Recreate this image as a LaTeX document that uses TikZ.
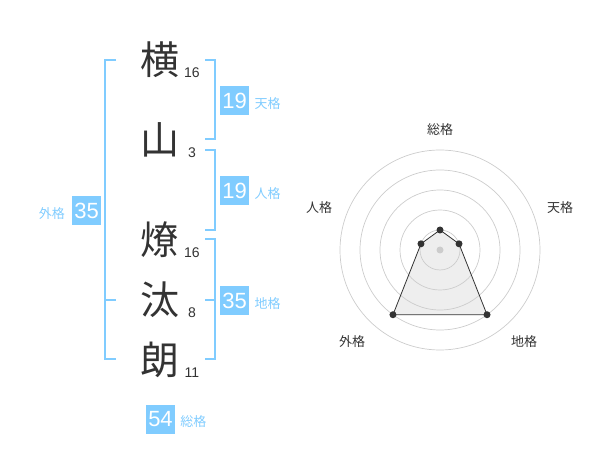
\documentclass[tikz,border=0pt]{standalone}
\usepackage{fontspec}
\setmainfont{Liberation Sans}
\newfontfamily\jpfont{Noto Sans CJK JP}
\usepackage{xcolor}
\usetikzlibrary{positioning}

\definecolor{kakublue}{HTML}{80CCFF}
\definecolor{inkgray}{HTML}{333333}
\definecolor{ringgray}{HTML}{CCCCCC}
\definecolor{areagray}{HTML}{EEEEEE}

\tikzset{
  namechar/.style={text=inkgray, font=\jpfont\fontsize{39}{39}\selectfont, inner sep=0pt},
  strokenum/.style={text=inkgray, font=\fontsize{14}{14}\selectfont, inner sep=0pt},
  kakubox/.style={fill=kakublue, text=white, minimum width=29pt, minimum height=29pt, inner sep=0pt, font=\fontsize{22}{22}\selectfont},
  kakulabel/.style={text=kakublue, font=\jpfont\fontsize{13}{13}\selectfont, inner sep=0pt},
  bracket/.style={draw=kakublue, line width=2pt},
  ring/.style={draw=ringgray, line width=0.7pt},
  axislabel/.style={text=inkgray, font=\jpfont\fontsize{13}{13}\selectfont, inner sep=0pt},
  dot/.style={circle, fill=inkgray, inner sep=0pt, minimum size=7pt},
}

\begin{document}
\begin{tikzpicture}[x=1pt, y=-1pt]
    \useasboundingbox (0,0) rectangle (600,470);

    % Name characters and stroke counts
    \foreach \i/\c/\y/\n in {1/横/60/16, 2/山/140/3, 3/燎/240/16, 4/汰/300/8, 5/朗/360/11} {
        \node[namechar] (c\i) at (160,\y) {\c};
        \node[strokenum] (n\i) at (192,\y+13) {\n};
    }

    % Brackets
    \draw[bracket] (116,60) -- (105,60) -- (105,359) -- (116,359);
    \draw[bracket] (105,300) -- (116,300);
    \draw[bracket] (205,60) -- (215,60) -- (215,139) -- (205,139);
    \draw[bracket] (205,150) -- (215,150) -- (215,230) -- (205,230);
    \draw[bracket] (205,239) -- (215,239) -- (215,359) -- (205,359);
    \draw[bracket] (205,300) -- (215,300);

    % Boxes with values
    \node[kakubox] (bten) at (234.7,100.5) {19};
    \node[kakubox] (bjin) at (234.7,190.5) {19};
    \node[kakubox] (bchi) at (234.7,300.5) {35};
    \node[kakubox] (bgai) at (86.7,210.5) {35};
    \node[kakubox] (bsou) at (160.5,419) {54};
    \node[kakulabel, right=5pt of bten, yshift=-3pt] (lten) {天格};
    \node[kakulabel, right=5pt of bjin, yshift=-3pt] (ljin) {人格};
    \node[kakulabel, right=5pt of bchi, yshift=-3pt] (lchi) {地格};
    \node[kakulabel, left=7pt of bgai, yshift=-3pt] (lgai) {外格};
    \node[kakulabel, right=5pt of bsou, yshift=-3pt] (lsou) {総格};

    % Radar chart
    \coordinate (ctr) at (440,250);
    \foreach \name/\ang/\r in {sou/-90/20, ten/-18/20, chi/54/80, gai/126/80, jin/198/20} {
        \coordinate (p-\name) at ([shift={(\ang:\r)}]ctr);
    }
    \fill[areagray] (p-sou) -- (p-ten) -- (p-chi) -- (p-gai) -- (p-jin) -- cycle;
    \foreach \r in {20,40,...,100} {
        \draw[ring] (ctr) circle (\r);
    }
    \fill[ringgray] (ctr) circle (3.5);
    \draw[inkgray, line width=0.8pt] (p-sou) -- (p-ten) -- (p-chi) -- (p-gai) -- (p-jin) -- cycle;
    \foreach \name in {sou, ten, chi, gai, jin} {
        \node[dot] at (p-\name) {};
    }

    % Axis labels
    \node[axislabel] (asou) at (440,130) {総格};
    \node[axislabel] (aten) at (560,208) {天格};
    \node[axislabel] (ajin) at (319,208) {人格};
    \node[axislabel] (agai) at (352,342) {外格};
    \node[axislabel] (achi) at (524,342) {地格};
\end{tikzpicture}
\end{document}
